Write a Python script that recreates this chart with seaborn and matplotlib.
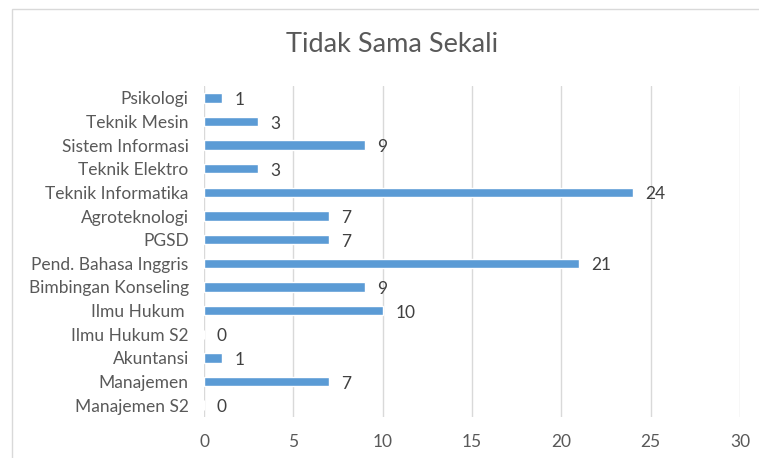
import matplotlib
matplotlib.use("Agg")
import matplotlib.pyplot as plt
import seaborn as sns
import pandas as pd
from matplotlib.patches import Rectangle

# data, top to bottom as shown
prodi = ["Psikologi", "Teknik Mesin", "Sistem Informasi", "Teknik Elektro",
         "Teknik Informatika", "Agroteknologi", "PGSD", "Pend. Bahasa Inggris",
         "Bimbingan Konseling", "Ilmu Hukum ", "Ilmu Hukum S2", "Akuntansi",
         "Manajemen", "Manajemen S2"]
jumlah = [1, 3, 9, 3, 24, 7, 7, 21, 9, 10, 0, 1, 7, 0]
x_ticks = [0, 5, 10, 15, 20, 25, 30]

df = pd.DataFrame({"prodi": prodi, "jumlah": jumlah})

sns.set_theme(style="white")
plt.rcParams['font.family'] = ['Lato', 'DejaVu Sans']

fig = plt.figure(figsize=(7.59, 4.58), dpi=100)
ax = fig.add_axes([204 / 759, 1 - 417 / 458, 536 / 759, 331 / 458])

sns.barplot(data=df, x="jumlah", y="prodi", order=prodi, orient="h",
            color="#5B9BD5", saturation=1, width=0.4, ax=ax)

ax.set_xlim(0, 30)
ax.set_xticks(x_ticks)
ax.set_xticklabels([str(t) for t in x_ticks])
ax.grid(axis="x", color="#D9D9D9", linewidth=1)
ax.set_axisbelow(True)
for s in ax.spines.values():
    s.set_visible(False)
ax.set_xlabel("")
ax.set_ylabel("")
ax.tick_params(axis="both", length=0, labelsize=12.5, colors="#595959")
ax.tick_params(axis="y", pad=11)
ax.tick_params(axis="x", pad=12)

labels = ax.bar_label(ax.containers[0], labels=[str(v) for v in jumlah],
                      padding=9, fontsize=12.5, color="#404040")
# nudge the value labels down a little
for t in labels:
    t.xyann = (t.xyann[0], -1.5)

fig.text(392 / 759, 1 - 45 / 458, "Tidak Sama Sekali", ha="center", va="center",
         fontsize=19.5, color="#595959")

# chart border (runs off the image on the right and bottom)
fig.patches.append(Rectangle((12 / 759, -0.2), 1.2, 1.2 - 9 / 458,
                             transform=fig.transFigure, fill=False,
                             edgecolor="#D9D9D9", linewidth=1))

fig.savefig("out.png", dpi=100)
plt.close(fig)
